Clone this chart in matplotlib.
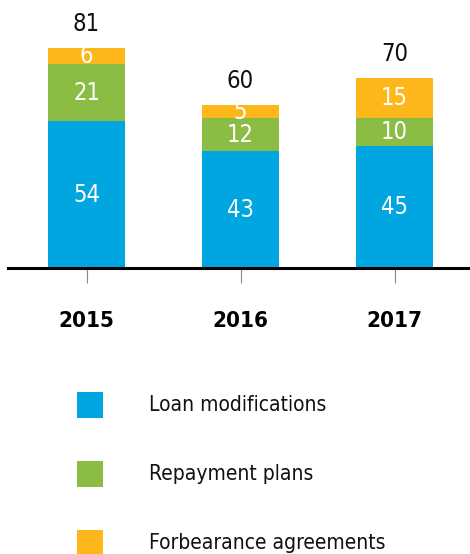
import numpy as np
import matplotlib
matplotlib.use("Agg")
import matplotlib.pyplot as plt
from matplotlib.patches import Rectangle

plt.rcParams['font.family'] = ['DejaVu Sans']
plt.rcParams['font.stretch'] = 'condensed'

years = ["2015", "2016", "2017"]
series_names = ["Loan modifications", "Repayment plans", "Forbearance agreements"]
loan_mods = [54, 43, 45]
repayment = [21, 12, 10]
forbearance = [6, 5, 15]
totals = [81, 60, 70]

colors = ["#00A6DF", "#8BBD45", "#FDB71B"]

fig = plt.figure(figsize=(4.7, 5.54), dpi=100)
W, H = 470, 554
ax = fig.add_axes([8 / W, (H - 268) / H, 462 / W, 268 / H])

x = np.arange(len(years))
bottom = np.zeros(len(years))
for vals, col in zip([loan_mods, repayment, forbearance], colors):
    ax.bar(x, vals, width=0.5, bottom=bottom, color=col, linewidth=0)
    for xi, b, v in zip(x, bottom, vals):
        ax.text(xi, b + v / 2, str(v), ha="center", va="center",
                color="white", fontsize=17)
    bottom += np.array(vals)

# totals above each stack
for xi, t in zip(x, totals):
    ax.annotate(str(t), (xi, t), xytext=(0, 17), textcoords="offset points",
                ha="center", va="center", fontsize=17, color="#111111")

ax.set_xlim(-0.51, 2.49)
ax.set_ylim(0, 98.5)
for s in ["top", "right", "left"]:
    ax.spines[s].set_visible(False)
ax.spines["bottom"].set_linewidth(2.2)
ax.spines["bottom"].set_color("black")
ax.set_yticks([])
ax.set_xticks(x)
ax.set_xticklabels(years, fontsize=16, fontweight="bold")
ax.tick_params(axis="x", length=11, width=0.8, color="#888888", pad=20)

# legend drawn by hand in pixel coordinates
for i, (name, col) in enumerate(zip(series_names, colors)):
    top = 392 + i * 69
    fig.add_artist(Rectangle((77 / W, (H - top - 26) / H), 26 / W, 26 / H,
                             transform=fig.transFigure, color=col, lw=0))
    fig.text(149 / W, (H - top - 13) / H, name, ha="left", va="center",
             fontsize=15, color="#111111")

fig.savefig("out.png", dpi=100)
